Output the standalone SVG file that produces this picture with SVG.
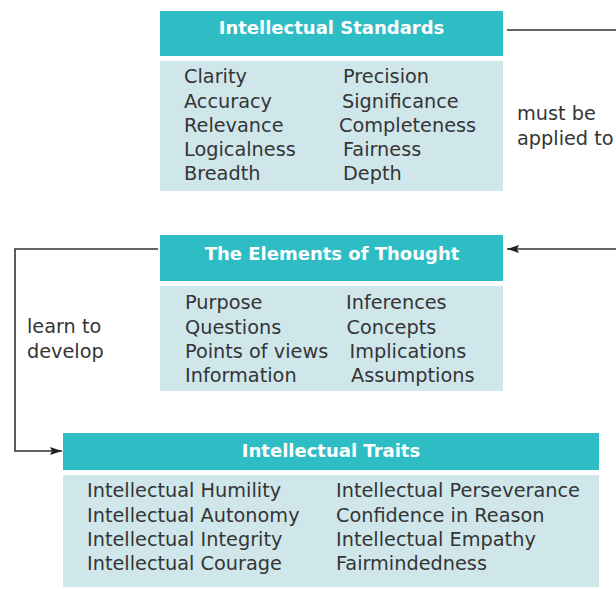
<svg xmlns="http://www.w3.org/2000/svg" width="616" height="589" viewBox="0 0 616 589">
  <style>
    .head { fill: #2ebdc5; }
    .body { fill: #cfe7eb; }
    .title { font-family: "DejaVu Sans", "Liberation Sans", sans-serif; font-weight: bold; font-size: 18px; fill: #ffffff; text-anchor: middle; }
    .item { font-family: "DejaVu Sans", "Liberation Sans", sans-serif; font-size: 19.3px; fill: #353535; }
    .label { font-family: "DejaVu Sans", "Liberation Sans", sans-serif; font-size: 19.3px; fill: #353535; }
    .link { fill: none; stroke: #333333; stroke-width: 1.6; }
  </style>
  <defs>
    <marker id="arrow" viewBox="0 0 12 8" refX="12" refY="4" markerWidth="12" markerHeight="8" markerUnits="userSpaceOnUse" orient="auto">
      <path d="M0,0 L12,4 L0,8 L2,4 Z" fill="#222222"/>
    </marker>
  </defs>

  <!-- connectors and their labels -->
  <g id="connectors">
    <path class="link" d="M507,30 H616"/>
    <path class="link" d="M616,249 H507" marker-end="url(#arrow)"/>
    <path class="link" d="M158,249 H15 V451 H62" marker-end="url(#arrow)"/>
    <text class="label" x="517" y="120">must be</text>
    <text class="label" x="517" y="145">applied to</text>
    <text class="label" x="27" y="333">learn to</text>
    <text class="label" x="27" y="358">develop</text>
  </g>

  <!-- Intellectual Standards -->
  <g id="standards">
    <rect class="head" x="160" y="11" width="343" height="45"/>
    <rect class="body" x="160" y="61" width="343" height="130"/>
    <text class="title" x="331.5" y="34">Intellectual Standards</text>
    <text class="item" x="184" y="83">Clarity</text>
    <text class="item" x="184" y="107.5">Accuracy</text>
    <text class="item" x="184" y="131.5">Relevance</text>
    <text class="item" x="184" y="156">Logicalness</text>
    <text class="item" x="184" y="180">Breadth</text>
    <text class="item" x="343" y="83">Precision</text>
    <text class="item" x="342" y="107.5">Significance</text>
    <text class="item" x="339" y="131.5">Completeness</text>
    <text class="item" x="343" y="156">Fairness</text>
    <text class="item" x="343" y="180">Depth</text>
  </g>

  <!-- The Elements of Thought -->
  <g id="elements">
    <rect class="head" x="160" y="235" width="343" height="46"/>
    <rect class="body" x="160" y="286" width="343" height="105"/>
    <text class="title" x="332" y="260">The Elements of Thought</text>
    <text class="item" x="185" y="309">Purpose</text>
    <text class="item" x="185" y="333.5">Questions</text>
    <text class="item" x="185" y="358">Points of views</text>
    <text class="item" x="185" y="382">Information</text>
    <text class="item" x="346" y="309">Inferences</text>
    <text class="item" x="346.5" y="333.5">Concepts</text>
    <text class="item" x="349.5" y="358">Implications</text>
    <text class="item" x="351" y="382">Assumptions</text>
  </g>

  <!-- Intellectual Traits -->
  <g id="traits">
    <rect class="head" x="63" y="433" width="536" height="37"/>
    <rect class="body" x="63" y="475" width="536" height="112"/>
    <text class="title" x="331" y="457">Intellectual Traits</text>
    <text class="item" x="87" y="497">Intellectual Humility</text>
    <text class="item" x="87" y="521.5">Intellectual Autonomy</text>
    <text class="item" x="87" y="546">Intellectual Integrity</text>
    <text class="item" x="87" y="570">Intellectual Courage</text>
    <text class="item" x="336" y="497">Intellectual Perseverance</text>
    <text class="item" x="336" y="521.5">Confidence in Reason</text>
    <text class="item" x="336" y="546">Intellectual Empathy</text>
    <text class="item" x="336" y="570">Fairmindedness</text>
  </g>
</svg>
